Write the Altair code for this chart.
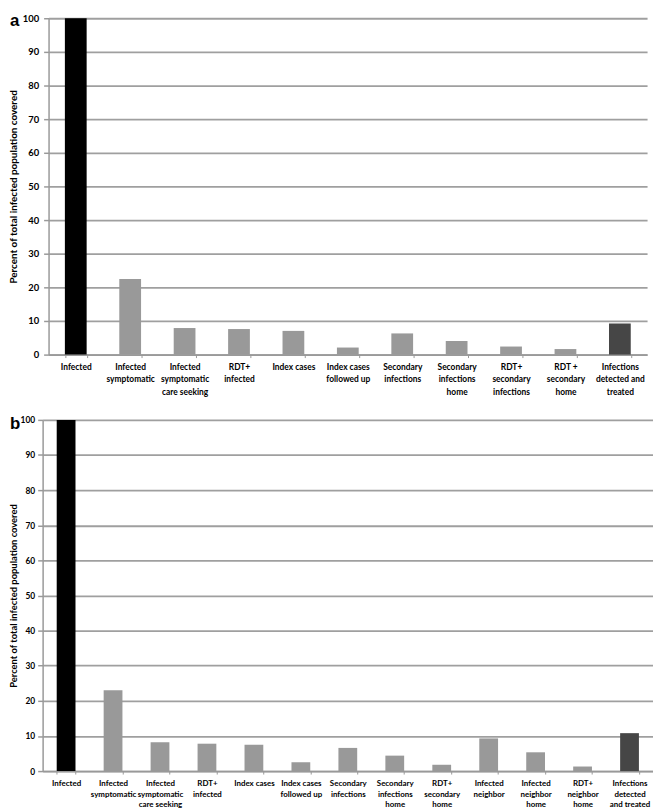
import altair as alt
import pandas as pd

FONT = "Lato"
LETTER_FONT = "Liberation Sans"

labels_a = ["Infected", "Infected|symptomatic", "Infected|symptomatic|care seeking",
            "RDT+|infected", "Index cases", "Index cases|followed up",
            "Secondary|infections", "Secondary|infections|home",
            "RDT+|secondary|infections", "RDT +|secondary|home",
            "Infections|detected and|treated"]
values_a = [100, 22.5, 7.9, 7.6, 7.05, 2.1, 6.3, 4.05, 2.4, 1.65, 9.25]
kinds_a = ["total"] + ["step"] * 9 + ["final"]

labels_b = ["Infected", "Infected|symptomatic", "Infected|symptomatic|care seeking",
            "RDT+|infected", "Index cases", "Index cases|followed up",
            "Secondary|infections", "Secondary|infections|home",
            "RDT+|secondary|home", "Infected|neighbor", "Infected|neighbor|home",
            "RDT+|neighbor|home", "Infections|detected|and treated"]
values_b = [100, 23.0, 8.2, 7.8, 7.5, 2.5, 6.6, 4.4, 1.8, 9.3, 5.35, 1.3, 10.8]
kinds_b = ["total"] + ["step"] * 11 + ["final"]

kind_domain = ["total", "step", "final"]
kind_colors = ["#000000", "#999999", "#464646"]
y_ticks = list(range(0, 101, 10))
y_title = "Percent of total infected population covered"


def panel(labels, values, kinds, letter, w, h, x_start, letter_x, letter_y,
          lab_size, line_h, lab_pad_x, tick_size, lab_pad_y, title_size, title_pad):
    df = pd.DataFrame({"label": labels, "value": values, "kind": kinds})
    x = alt.X("label:N", sort=labels, title=None,
              scale=alt.Scale(paddingInner=0.6, paddingOuter=0.3, range=[x_start, w]),
              axis=alt.Axis(labelExpr="isValid(datum.value) ? split(datum.value, '|') : ''",
                            labelAngle=0,
                            labelFont=FONT, labelFontSize=lab_size, labelFontWeight="bold",
                            labelColor="black", labelLineHeight=line_h, labelBaseline="top",
                            labelPadding=lab_pad_x, ticks=True, tickBand="extent", tickSize=3,
                            tickColor="#999999", domainColor="#999999", domainWidth=1.5,
                            grid=False))
    y = alt.Y("value:Q", scale=alt.Scale(domain=[0, 100], nice=False),
              axis=alt.Axis(values=y_ticks, title=y_title, grid=True, gridColor="#9f9f9f",
                            gridWidth=1.8, tickSize=5, tickColor="#999999", tickWidth=1.5,
                            domainColor="#999999", domainWidth=1.5, labelPadding=lab_pad_y,
                            offset=-x_start,
                            labelFont=FONT, labelFontSize=tick_size, labelFontWeight="bold",
                            labelColor="black", titleFont=FONT, titleFontSize=title_size,
                            titleFontWeight="bold", titleColor="black", titlePadding=title_pad))
    bars = alt.Chart(df).mark_bar().encode(
        x=x, y=y,
        color=alt.Color("kind:N", scale=alt.Scale(domain=kind_domain, range=kind_colors),
                        legend=None))
    lt = alt.Chart(pd.DataFrame({"t": [letter]})).mark_text(
        align="left", baseline="top", font=LETTER_FONT, fontSize=17,
        fontWeight="bold", color="black").encode(
        x=alt.value(letter_x), y=alt.value(letter_y), text="t:N")
    return alt.layer(bars, lt).properties(width=w, height=h)


top = panel(labels_a, values_a, kinds_a, "a", 611, 340, 6, -33, -4.7,
            8.5, 12.5, 5, 9.5, 5, 10, 3.5)
bottom = panel(labels_b, values_b, kinds_b, "b", 617, 355, 0, -33, -3.9,
               8, 10.5, 6, 8.5, 3, 9.5, 1.5)

chart = alt.concat(top, bottom, columns=1, spacing=19).properties(
    padding=0
).configure_view(stroke=None)

chart.save("out.html", embed_options={"renderer": "svg", "actions": False})
